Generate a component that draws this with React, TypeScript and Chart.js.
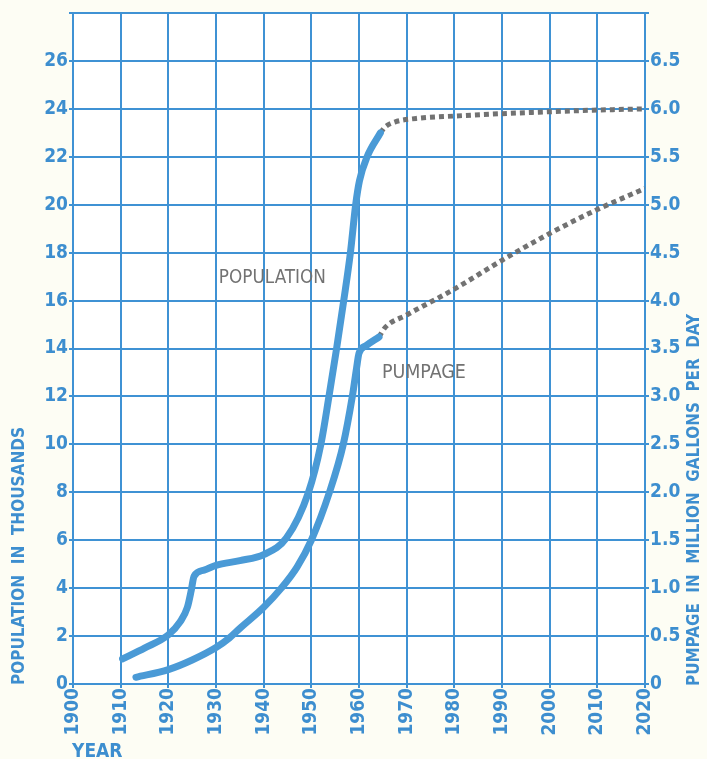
import React, { useEffect, useRef } from "react";
import { Chart, registerables } from "chart.js";

Chart.register(...registerables);

// ---- data ----
const yearMin = 1900;
const yearMax = 2020;
const yearStep = 10;

const popMax = 28;
const popStep = 2;
const pumpMax = 7;
const pumpStep = 0.5;

// Population, thousands (solid = recorded)
const popYears = [1910.4, 1915, 1920, 1922.5, 1924, 1924.8, 1925.4, 1927.5, 1930, 1935, 1940, 1944.8, 1949.4, 1952, 1953.7, 1955.3, 1956.8, 1958.2, 1959.3, 1960.1, 1961.7, 1964.5];
const popValues = [1.05, 1.5, 2.05, 2.6, 3.2, 3.9, 4.5, 4.75, 4.95, 5.15, 5.4, 6.1, 8.0, 10.0, 12.0, 14.0, 16.0, 18.0, 20.0, 21.0, 22.0, 23.0];

// Population, thousands (dotted = projected)
const popProjYears = [1964.5, 1965.5, 1967.5, 1972, 1980, 1990, 2000, 2010, 2020];
const popProjValues = [23.0, 23.25, 23.45, 23.6, 23.7, 23.8, 23.88, 23.95, 24.0];

// Pumpage, million gallons per day (solid = recorded)
const pumpYears = [1913.2, 1920, 1925, 1930, 1932.8, 1935, 1940, 1943.7, 1947, 1950, 1953.8, 1956.7, 1958.6, 1959.5, 1960, 1961.5, 1964.2];
const pumpValues = [0.07, 0.15, 0.25, 0.38, 0.48, 0.58, 0.8, 1.0, 1.22, 1.5, 2.0, 2.5, 3.0, 3.3, 3.45, 3.53, 3.62];

// Pumpage, million gallons per day (dotted = projected)
const pumpProjYears = [1964.2, 1965.5, 1970, 1980, 1990, 2000, 2010, 2020];
const pumpProjValues = [3.62, 3.72, 3.85, 4.12, 4.42, 4.7, 4.95, 5.17];

const leftTitle = "POPULATION  IN  THOUSANDS";
const rightTitle = "PUMPAGE  IN  MILLION  GALLONS  PER  DAY";
const xTitle = "YEAR";
const popLabel = "POPULATION";
const pumpLabel = "PUMPAGE";

// ---- styles ----
const FONT = '"Liberation Sans Narrow", "DejaVu Sans Condensed", "Roboto Condensed", sans-serif';
const GRID_BLUE = "#3f92d4";
const TEXT_BLUE = "#3d8ecf";
const CURVE_BLUE = "#4a9ad6";
const PROJ_GRAY = "#727272";
const LABEL_GRAY = "#727272";
const PAGE_BG = "#fdfdf4";

const W = 707;
const H = 759;

function pts(xs: number[], ys: number[]) {
  return xs.map((x, i) => ({ x, y: ys[i] }));
}

const textPlugin = {
  id: "textPlugin",
  beforeDraw(chart: any) {
    const { ctx, chartArea } = chart;
    ctx.save();
    ctx.fillStyle = PAGE_BG;
    ctx.fillRect(0, 0, chart.width, chart.height);
    ctx.fillStyle = "#ffffff";
    ctx.fillRect(chartArea.left, chartArea.top, chartArea.right - chartArea.left, chartArea.bottom - chartArea.top);
    ctx.restore();
  },
  afterDraw(chart: any) {
    const { ctx } = chart;
    const xs = chart.scales.x;
    const ys = chart.scales.y;
    ctx.save();
    const drawRot = (text: string, cx: number, cy: number, len: number) => {
      ctx.save();
      ctx.translate(cx, cy);
      ctx.rotate(-Math.PI / 2);
      ctx.font = `bold 18px ${FONT}`;
      ctx.fillStyle = TEXT_BLUE;
      ctx.textAlign = "center";
      ctx.textBaseline = "middle";
      const m = ctx.measureText(text).width;
      ctx.scale(len / m, 1);
      ctx.fillText(text, 0, 0);
      ctx.restore();
    };
    drawRot(leftTitle, 19, 556, 258);
    drawRot(rightTitle, 694, 500, 372);

    ctx.font = `bold 19px ${FONT}`;
    ctx.fillStyle = TEXT_BLUE;
    ctx.textAlign = "left";
    ctx.textBaseline = "alphabetic";
    ctx.fillText(xTitle, 72, 757);

    ctx.font = `20px ${FONT}`;
    ctx.fillStyle = LABEL_GRAY;
    ctx.textAlign = "left";
    const fitText = (t: string, x: number, y: number, len: number) => {
      ctx.save();
      ctx.translate(x, y);
      const m = ctx.measureText(t).width;
      ctx.scale(len / m, 1);
      ctx.fillText(t, 0, 0);
      ctx.restore();
    };
    fitText(popLabel, xs.getPixelForValue(1930.6), ys.getPixelForValue(16.75), 107);
    fitText(pumpLabel, xs.getPixelForValue(1964.8), ys.getPixelForValue(12.75), 84);
    ctx.restore();
  },
};

export default function App() {
  const ref = useRef<HTMLCanvasElement | null>(null);

  useEffect(() => {
    const canvas = ref.current;
    if (!canvas) return;
    const tickFont = { family: FONT, size: 19, weight: "bold" as const };

    const solid = (label: string, xs: number[], ys: number[], axis: string) => ({
      label,
      data: pts(xs, ys),
      yAxisID: axis,
      borderColor: CURVE_BLUE,
      borderWidth: 7,
      cubicInterpolationMode: "monotone",
      borderCapStyle: "round",
      borderJoinStyle: "round",
      pointRadius: 0,
    });
    const dotted = (label: string, xs: number[], ys: number[], axis: string) => ({
      label,
      data: pts(xs, ys),
      yAxisID: axis,
      borderColor: PROJ_GRAY,
      borderWidth: 5,
      borderDash: [5, 4],
      cubicInterpolationMode: "monotone",
      pointRadius: 0,
    });

    const chart = new Chart(canvas, {
      type: "line",
      data: {
        datasets: [
          solid("Population", popYears, popValues, "y"),
          dotted("Population (projected)", popProjYears, popProjValues, "y"),
          solid("Pumpage", pumpYears, pumpValues, "y1"),
          dotted("Pumpage (projected)", pumpProjYears, pumpProjValues, "y1"),
        ],
      },
      options: {
        responsive: false,
        animation: false,
        devicePixelRatio: 1,
        layout: { padding: { top: 13, left: 0, right: 0, bottom: 0 } },
        plugins: {
          legend: { display: false },
          tooltip: { enabled: false },
        },
        scales: {
          x: {
            type: "linear",
            min: yearMin,
            max: yearMax,
            ticks: {
              stepSize: yearStep,
              minRotation: 90,
              maxRotation: 90,
              color: TEXT_BLUE,
              font: tickFont,
              padding: 0,
              callback: (v: any) => String(v),
            },
            grid: { color: GRID_BLUE, lineWidth: 2, tickLength: 4, drawTicks: true },
            border: { display: true, color: GRID_BLUE, width: 2 },
            afterFit: (s: any) => {
              s.height = 75;
              s.paddingLeft = 0;
              s.paddingRight = 0;
            },
          },
          y: {
            type: "linear",
            position: "left",
            min: 0,
            max: popMax,
            ticks: {
              stepSize: popStep,
              color: TEXT_BLUE,
              font: tickFont,
              padding: 1,
              callback: (v: any) => (v === popMax ? "" : String(v)),
            },
            grid: { color: GRID_BLUE, lineWidth: 2, tickLength: 4 },
            border: { display: true, color: GRID_BLUE, width: 2 },
            afterFit: (s: any) => {
              s.width = 73;
              s.paddingTop = 0;
              s.paddingBottom = 0;
            },
          },
          y1: {
            type: "linear",
            position: "right",
            min: 0,
            max: pumpMax,
            ticks: {
              stepSize: pumpStep,
              color: TEXT_BLUE,
              font: tickFont,
              padding: 1,
              callback: (v: any) => (v === 0 ? "0" : v === pumpMax ? "" : Number(v).toFixed(1)),
            },
            grid: { drawOnChartArea: false, color: GRID_BLUE, lineWidth: 2, tickLength: 4 },
            border: { display: true, color: GRID_BLUE, width: 2 },
            afterFit: (s: any) => {
              s.width = 62;
              s.paddingTop = 0;
              s.paddingBottom = 0;
            },
          },
        },
      },
      plugins: [textPlugin],
    } as any);

    return () => chart.destroy();
  }, []);

  return (
    <div style={{ position: "absolute", left: 0, top: 0, width: W, height: H, background: PAGE_BG }}>
      <canvas ref={ref} width={W} height={H} style={{ display: "block", width: W, height: H }} />
    </div>
  );
}
